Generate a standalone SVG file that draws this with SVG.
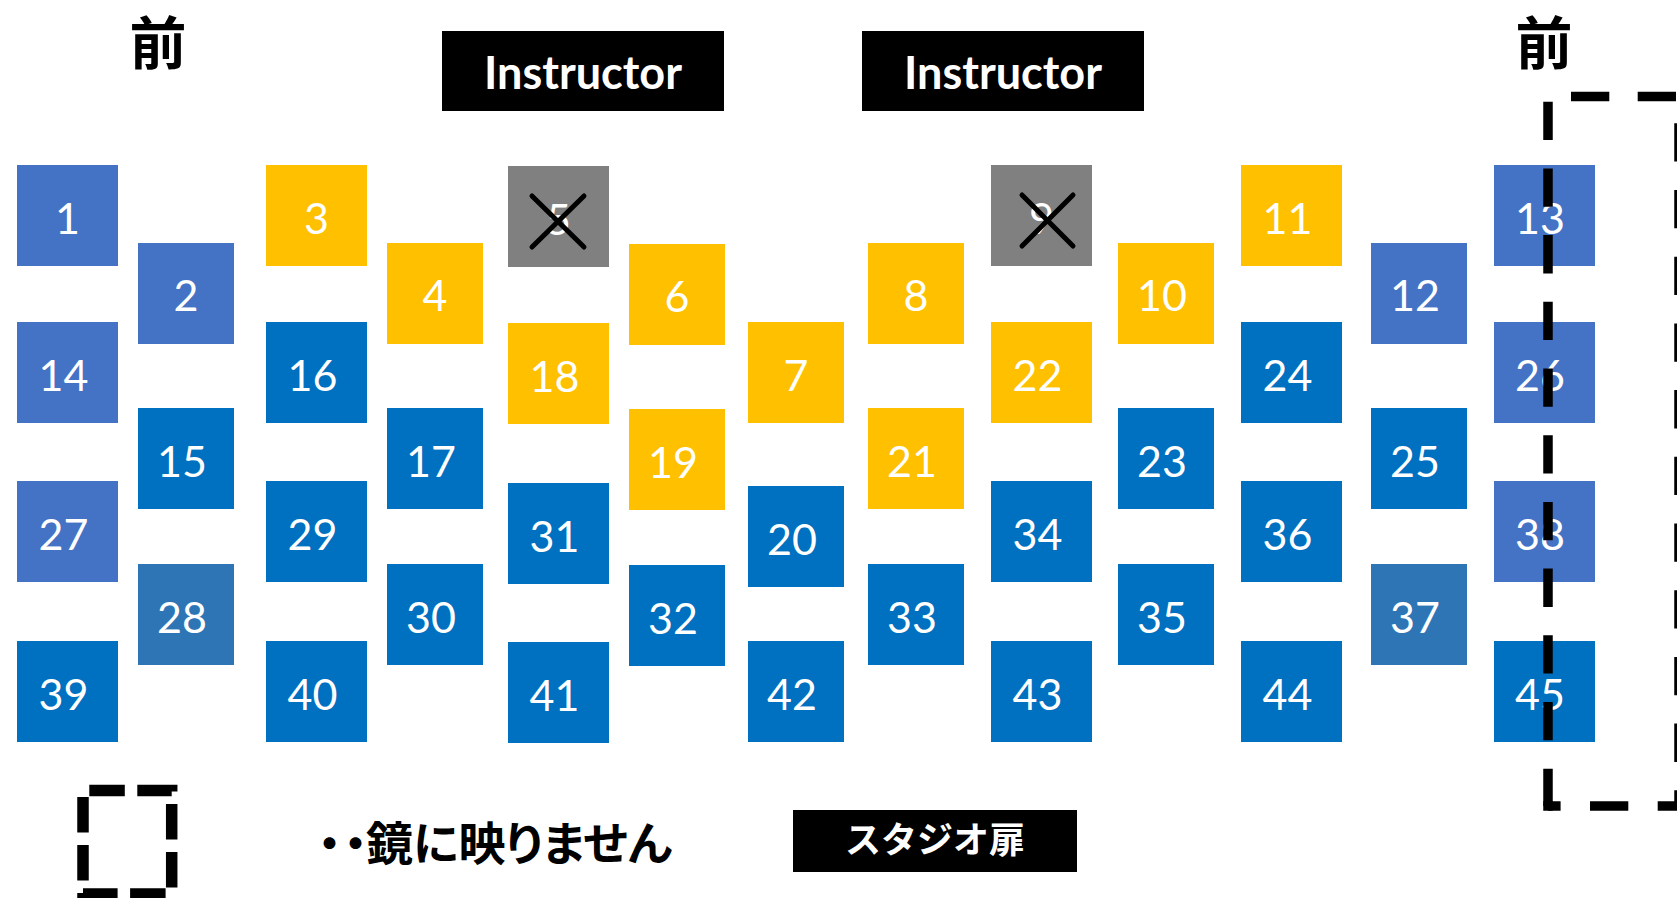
<svg xmlns="http://www.w3.org/2000/svg" width="1677" height="898" viewBox="0 0 1677 898">
<style>
.b1{fill:#4472C4}
.b2{fill:#0070C0}
.b3{fill:#2E75B6}
.y{fill:#FFC000}
.g{fill:#808080}
.n{font-family:Lato,"Liberation Sans",sans-serif;font-size:43px;fill:#fff;text-anchor:middle}
.jp{font-family:"Noto Sans CJK JP",sans-serif;font-weight:700}
.palt{font-feature-settings:"palt" 1}
.ins{font-family:Lato,"Liberation Sans",sans-serif;font-weight:700;font-size:45px;fill:#fff;text-anchor:middle}
.x{stroke:#000;stroke-width:5;stroke-linecap:round}
.d{fill:none;stroke:#000;stroke-width:9.5}
</style>
<rect width="1677" height="898" fill="#fff"/>
<g id="labels">
<text class="jp" x="158" y="64" font-size="57" text-anchor="middle">前</text>
<text class="jp" x="1544" y="64" font-size="57" text-anchor="middle">前</text>
</g>
<g id="instructor1"><rect x="442" y="31" width="282" height="80" fill="#000"/><text class="ins" x="583" y="89">Instructor</text></g>
<g id="instructor2"><rect x="862" y="31" width="282" height="80" fill="#000"/><text class="ins" x="1003" y="89">Instructor</text></g>
<g id="seats">
<g id="s1"><rect class="b1" x="17" y="165" width="101" height="101"/><text class="n" x="67.5" y="234">1</text></g>
<g id="s14"><rect class="b1" x="17" y="322" width="101" height="101"/><text class="n" x="63.5" y="390.5">14</text></g>
<g id="s27"><rect class="b1" x="17" y="481" width="101" height="101"/><text class="n" x="63.5" y="549.5">27</text></g>
<g id="s39"><rect class="b2" x="17" y="641" width="101" height="101"/><text class="n" x="63.5" y="709.5">39</text></g>
<g id="s2"><rect class="b1" x="138" y="243" width="96" height="101"/><text class="n" x="186" y="311">2</text></g>
<g id="s15"><rect class="b2" x="138" y="408" width="96" height="101"/><text class="n" x="182" y="476.5">15</text></g>
<g id="s28"><rect class="b3" x="138" y="564" width="96" height="101"/><text class="n" x="182" y="632.5">28</text></g>
<g id="s3"><rect class="y" x="266" y="165" width="101" height="101"/><text class="n" x="316.5" y="234">3</text></g>
<g id="s16"><rect class="b2" x="266" y="322" width="101" height="101"/><text class="n" x="312.5" y="390.5">16</text></g>
<g id="s29"><rect class="b2" x="266" y="481" width="101" height="101"/><text class="n" x="312.5" y="549.5">29</text></g>
<g id="s40"><rect class="b2" x="266" y="641" width="101" height="101"/><text class="n" x="312.5" y="709.5">40</text></g>
<g id="s4"><rect class="y" x="387" y="243" width="96" height="101"/><text class="n" x="435" y="311">4</text></g>
<g id="s17"><rect class="b2" x="387" y="408" width="96" height="101"/><text class="n" x="431" y="476.5">17</text></g>
<g id="s30"><rect class="b2" x="387" y="564" width="96" height="101"/><text class="n" x="431" y="632.5">30</text></g>
<g id="s5"><rect class="g" x="508" y="166" width="101" height="101"/><text class="n" x="558.5" y="235">5</text><line class="x" x1="532" y1="196" x2="584" y2="247"/><line class="x" x1="584" y1="196" x2="532" y2="247"/></g>
<g id="s18"><rect class="y" x="508" y="323" width="101" height="101"/><text class="n" x="554.5" y="391.5">18</text></g>
<g id="s31"><rect class="b2" x="508" y="483" width="101" height="101"/><text class="n" x="554.5" y="551.5">31</text></g>
<g id="s41"><rect class="b2" x="508" y="642" width="101" height="101"/><text class="n" x="554.5" y="710.5">41</text></g>
<g id="s6"><rect class="y" x="629" y="244" width="96" height="101"/><text class="n" x="677" y="312">6</text></g>
<g id="s19"><rect class="y" x="629" y="409" width="96" height="101"/><text class="n" x="673" y="477.5">19</text></g>
<g id="s32"><rect class="b2" x="629" y="565" width="96" height="101"/><text class="n" x="673" y="633.5">32</text></g>
<g id="s7"><rect class="y" x="748" y="322" width="96" height="101"/><text class="n" x="796" y="390.5">7</text></g>
<g id="s20"><rect class="b2" x="748" y="486" width="96" height="101"/><text class="n" x="792" y="554.5">20</text></g>
<g id="s42"><rect class="b2" x="748" y="641" width="96" height="101"/><text class="n" x="792" y="709.5">42</text></g>
<g id="s8"><rect class="y" x="868" y="243" width="96" height="101"/><text class="n" x="916" y="311">8</text></g>
<g id="s21"><rect class="y" x="868" y="408" width="96" height="101"/><text class="n" x="912" y="476.5">21</text></g>
<g id="s33"><rect class="b2" x="868" y="564" width="96" height="101"/><text class="n" x="912" y="632.5">33</text></g>
<g id="s9"><rect class="g" x="991" y="165" width="101" height="101"/><text class="n" x="1041.5" y="234">9</text><line class="x" x1="1022" y1="195" x2="1073" y2="246"/><line class="x" x1="1073" y1="195" x2="1022" y2="246"/></g>
<g id="s22"><rect class="y" x="991" y="322" width="101" height="101"/><text class="n" x="1037.5" y="390.5">22</text></g>
<g id="s34"><rect class="b2" x="991" y="481" width="101" height="101"/><text class="n" x="1037.5" y="549.5">34</text></g>
<g id="s43"><rect class="b2" x="991" y="641" width="101" height="101"/><text class="n" x="1037.5" y="709.5">43</text></g>
<g id="s10"><rect class="y" x="1118" y="243" width="96" height="101"/><text class="n" x="1162" y="311">10</text></g>
<g id="s23"><rect class="b2" x="1118" y="408" width="96" height="101"/><text class="n" x="1162" y="476.5">23</text></g>
<g id="s35"><rect class="b2" x="1118" y="564" width="96" height="101"/><text class="n" x="1162" y="632.5">35</text></g>
<g id="s11"><rect class="y" x="1241" y="165" width="101" height="101"/><text class="n" x="1287.5" y="234">11</text></g>
<g id="s24"><rect class="b2" x="1241" y="322" width="101" height="101"/><text class="n" x="1287.5" y="390.5">24</text></g>
<g id="s36"><rect class="b2" x="1241" y="481" width="101" height="101"/><text class="n" x="1287.5" y="549.5">36</text></g>
<g id="s44"><rect class="b2" x="1241" y="641" width="101" height="101"/><text class="n" x="1287.5" y="709.5">44</text></g>
<g id="s12"><rect class="b1" x="1371" y="243" width="96" height="101"/><text class="n" x="1415" y="311">12</text></g>
<g id="s25"><rect class="b2" x="1371" y="408" width="96" height="101"/><text class="n" x="1415" y="476.5">25</text></g>
<g id="s37"><rect class="b3" x="1371" y="564" width="96" height="101"/><text class="n" x="1415" y="632.5">37</text></g>
<g id="s13"><rect class="b1" x="1494" y="165" width="101" height="101"/><text class="n" x="1540" y="234">13</text></g>
<g id="s26"><rect class="b1" x="1494" y="322" width="101" height="101"/><text class="n" x="1540" y="390.5">26</text></g>
<g id="s38"><rect class="b1" x="1494" y="481" width="101" height="101"/><text class="n" x="1540" y="549.5">38</text></g>
<g id="s45"><rect class="b2" x="1494" y="641" width="101" height="101"/><text class="n" x="1540" y="709.5">45</text></g>
</g>
<g id="mirror-zone">
<path class="d" d="M1548,96.5 H1682" stroke-dasharray="38.3 28.4" stroke-dashoffset="43.7"/>
<path class="d" d="M1548,96.5 V806" stroke-dasharray="38.3 28.4" stroke-dashoffset="61.5"/>
<path class="d" d="M1679,96.5 V806" stroke-dasharray="38.3 28.4" stroke-dashoffset="39.9"/>
<path class="d" d="M1548,806 H1682" stroke-dasharray="38.3 29.4" stroke-dashoffset="25.7"/>
<rect x="1543.25" y="801.25" width="9.5" height="9.5" fill="#000"/>
</g>
<g id="legend">
<path d="M83,790.5 H171.7 V894 H83 Z" fill="none" stroke="#000" stroke-width="11.5" stroke-dasharray="35.5 12.5" stroke-dashoffset="41.7"/>
<text class="jp palt" y="860" font-size="46"><tspan x="318">・</tspan><tspan x="344">・</tspan><tspan x="366" textLength="306" lengthAdjust="spacingAndGlyphs">鏡に映りません</tspan></text>
</g>
<g id="door"><rect x="793" y="810" width="284" height="62" fill="#000"/><text class="jp" x="935" y="853" font-size="36" fill="#fff" text-anchor="middle">スタジオ扉</text></g>
</svg>
